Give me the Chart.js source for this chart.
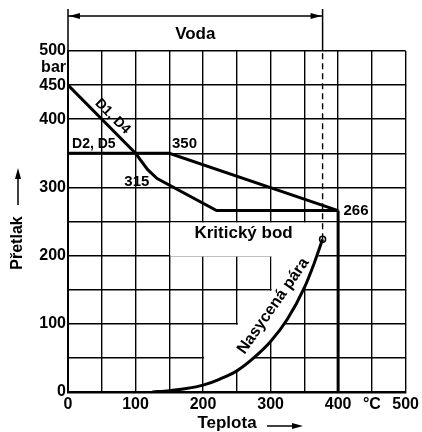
<!DOCTYPE html>
<html>
<head>
<meta charset="utf-8">
<script src="https://cdn.jsdelivr.net/npm/chart.js@4"></script>
<style>
  html, body { margin: 0; padding: 0; background: #fff; }
</style>
</head>
<body>
<canvas id="myChart" width="422" height="432"></canvas>
<script>
"use strict";

// line D1, D4 (temperature °C / pressure bar)
const d1d4Temp = [0, 100, 118, 132, 220, 400];
const d1d4Pressure = [450, 350, 326, 313, 266, 266];
// line D2, D5
const d2d5Temp = [0, 150, 400];
const d2d5Pressure = [350, 350, 266];
// vertical limit at 400 °C
const limitTemp = [400, 400];
const limitPressure = [266, 0];
// saturated steam curve
const steamTemp = [125, 150, 175, 200, 225, 250, 275, 300, 325, 350, 365, 377];
const steamPressure = [0, 2, 5, 10, 19, 31, 50, 74, 107, 153, 190, 224];
// critical point
const criticalTemp = 377;
const criticalPressure = 224;

const xTickValues = [0, 100, 200, 300, 400, 450, 500];
const xTickLabels = ['0', '100', '200', '300', '400', '°C', '500'];
const yTickValues = [0, 100, 200, 300, 400, 450, 500];
const yTickLabels = ['0', '100', '200', '300', '400', '450', '500'];

const FONT = '"Liberation Sans", Arial, sans-serif';
const toPoints = (xs, ys) => xs.map((x, i) => ({ x: x, y: ys[i] }));

// white patch behind the curve labels (grid is cut out there)
const maskPlugin = {
  id: 'mask',
  beforeDatasetsDraw(chart) {
    const { ctx, scales: { x, y } } = chart;
    const pts = [[201.5, 10.5], [201.5, 98.5], [251.5, 98.5], [251.5, 148.5], [301.5, 148.5],
      [301.5, 198.5], [151.5, 198.5], [151.5, 248.5], [398.5, 248.5], [398.5, 201.5], [372, 201.5]];
    for (let i = steamTemp.length - 1; i >= 0; i--) {
      if (steamTemp[i] > 201.5 && steamPressure[i] < 200) pts.push([steamTemp[i], steamPressure[i]]);
    }
    ctx.save();
    ctx.fillStyle = '#fff';
    ctx.beginPath();
    pts.forEach((p, i) => {
      const px = x.getPixelForValue(p[0]), py = y.getPixelForValue(p[1]);
      if (i === 0) ctx.moveTo(px, py); else ctx.lineTo(px, py);
    });
    ctx.closePath();
    ctx.fill();
    ctx.restore();
  }
};

function arrowHead(ctx, tx, ty, dir) {
  // dir: 'left' | 'right' | 'up'
  ctx.beginPath();
  if (dir === 'left') { ctx.moveTo(tx, ty); ctx.lineTo(tx + 11, ty - 3); ctx.lineTo(tx + 11, ty + 3); }
  if (dir === 'right') { ctx.moveTo(tx, ty); ctx.lineTo(tx - 11, ty - 3); ctx.lineTo(tx - 11, ty + 3); }
  if (dir === 'up') { ctx.moveTo(tx, ty); ctx.lineTo(tx - 3, ty + 11); ctx.lineTo(tx + 3, ty + 11); }
  ctx.closePath();
  ctx.fill();
}

const labelPlugin = {
  id: 'labels',
  afterDraw(chart) {
    const { ctx, chartArea, scales: { x, y } } = chart;
    ctx.save();
    ctx.fillStyle = '#000';
    ctx.strokeStyle = '#000';

    const text = (str, tx, ty, size, align, base, angle) => {
      ctx.save();
      ctx.font = 'bold ' + size + 'px ' + FONT;
      ctx.textAlign = align;
      ctx.textBaseline = base;
      ctx.translate(tx, ty);
      if (angle) ctx.rotate(angle * Math.PI / 180);
      ctx.fillText(str, 0, 0);
      ctx.restore();
    };

    // Voda bracket
    const x0 = x.getPixelForValue(0);
    const xc = x.getPixelForValue(criticalTemp);
    ctx.lineWidth = 1.5;
    ctx.beginPath();
    ctx.moveTo(x0, chartArea.top); ctx.lineTo(x0, 9);
    ctx.moveTo(xc, chartArea.top); ctx.lineTo(xc, 9);
    ctx.moveTo(x0, 16); ctx.lineTo(xc, 16);
    ctx.stroke();
    arrowHead(ctx, x0 + 1, 16, 'left');
    arrowHead(ctx, xc - 1, 16, 'right');
    text('Voda', (x0 + xc) / 2, 34, 17, 'center', 'middle');

    // curve labels
    text('D1, D4', x.getPixelForValue(66), y.getPixelForValue(404), 14, 'center', 'middle', 45);
    text('D2, D5', x.getPixelForValue(6), y.getPixelForValue(350) - 2, 14, 'left', 'bottom');
    text('350', x.getPixelForValue(154), y.getPixelForValue(350) - 2, 15, 'left', 'bottom');
    text('315', x.getPixelForValue(102), y.getPixelForValue(308), 15, 'center', 'middle');
    text('266', x.getPixelForValue(408), y.getPixelForValue(265), 15, 'left', 'middle');
    text('Kritický bod', x.getPixelForValue(260), y.getPixelForValue(232), 17, 'center', 'middle');
    text('Nasycená pára', x.getPixelForValue(304), y.getPixelForValue(126), 16, 'center', 'middle', -55);
    text('bar', chartArea.left - 2, y.getPixelForValue(476), 16, 'right', 'middle');

    // axis titles
    text('Přetlak', 18, 243, 16, 'center', 'middle', -90);
    ctx.lineWidth = 1.5;
    ctx.beginPath(); ctx.moveTo(18, 205); ctx.lineTo(18, 178); ctx.stroke();
    arrowHead(ctx, 18, 168, 'up');
    text('Teplota', 227, 423, 17, 'center', 'middle');
    ctx.beginPath(); ctx.moveTo(267, 426); ctx.lineTo(292, 426); ctx.stroke();
    arrowHead(ctx, 303, 426, 'right');
    ctx.restore();
  }
};

const thick = { showLine: true, borderColor: '#000', borderWidth: 3, pointRadius: 0, fill: false };

const data = {
  datasets: [
    Object.assign({ label: 'D1, D4', data: toPoints(d1d4Temp, d1d4Pressure) }, thick),
    Object.assign({ label: 'D2, D5', data: toPoints(d2d5Temp, d2d5Pressure) }, thick),
    Object.assign({ label: '400 °C', data: toPoints(limitTemp, limitPressure) }, thick),
    Object.assign({ label: 'Nasycená pára', data: toPoints(steamTemp, steamPressure), cubicInterpolationMode: 'monotone' }, thick),
    {
      label: 'Voda',
      data: [{ x: criticalTemp, y: criticalPressure }, { x: criticalTemp, y: 500 }],
      showLine: true, borderColor: '#000', borderWidth: 1.4, borderDash: [6, 4], pointRadius: 0
    },
    {
      label: 'Kritický bod',
      data: [{ x: criticalTemp, y: criticalPressure }],
      pointRadius: 3, pointBackgroundColor: '#fff', pointBorderColor: '#000', pointBorderWidth: 1.5
    }
  ]
};

const config = {
  type: 'scatter',
  data: data,
  options: {
    responsive: false,
    animation: false,
    layout: { padding: { top: 51, right: 14, left: 0, bottom: 0 } },
    plugins: { legend: { display: false }, tooltip: { enabled: false } },
    scales: {
      x: {
        type: 'linear', min: 0, max: 500,
        afterFit: (scale) => { scale.height = 40; },
        ticks: {
          stepSize: 50, autoSkip: false, maxRotation: 0, padding: 3, color: '#000',
          font: { family: FONT, weight: 'bold', size: 16 },
          callback: (v) => { const i = xTickValues.indexOf(v); return i < 0 ? '' : xTickLabels[i]; }
        },
        grid: { color: '#000', lineWidth: 1.4, drawTicks: false },
        border: { color: '#000', width: 2.5 }
      },
      y: {
        type: 'linear', min: 0, max: 500,
        afterFit: (scale) => { scale.width = 68; },
        ticks: {
          stepSize: 50, autoSkip: false, padding: 2, color: '#000',
          font: { family: FONT, weight: 'bold', size: 16 },
          callback: (v) => { const i = yTickValues.indexOf(v); return i < 0 ? '' : yTickLabels[i]; }
        },
        grid: { color: '#000', lineWidth: 1.4, drawTicks: false },
        border: { color: '#000', width: 2 }
      }
    }
  },
  plugins: [maskPlugin, labelPlugin]
};

const myChart = new Chart(document.getElementById('myChart'), config);
</script>
</body>
</html>
